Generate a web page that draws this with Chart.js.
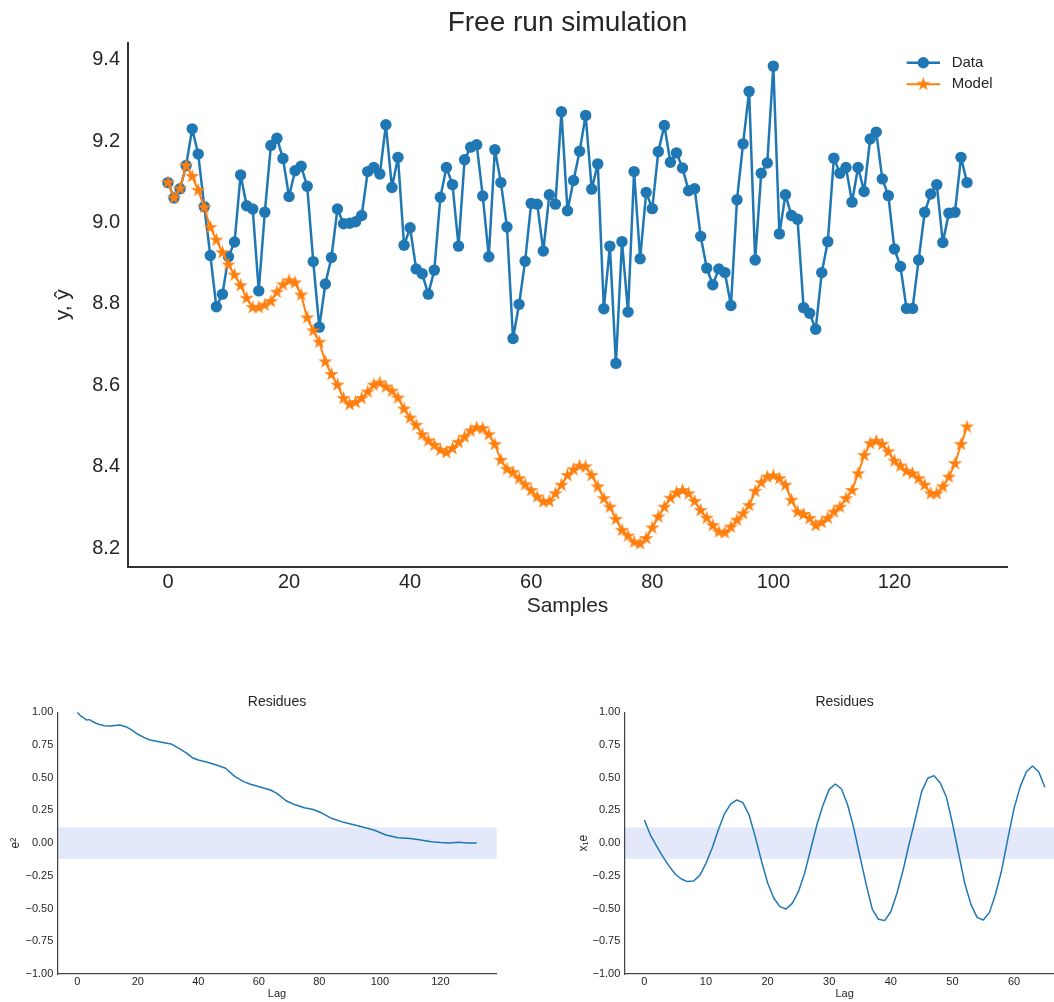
<!DOCTYPE html>
<html>
<head>
<meta charset="utf-8">
<title>Free run simulation</title>
<script src="https://cdn.jsdelivr.net/npm/chart.js@4.4.1/dist/chart.umd.min.js"></script>
<style>
  html, body { margin: 0; padding: 0; background: #fff; overflow: hidden; }
  #page { position: relative; width: 1054px; height: 1002px; overflow: hidden; }
  canvas { position: absolute; }
  #mainChart { left: 0; top: 0; }
  #acfChart { left: 0; top: 680px; }
  #ccfChart { left: 560px; top: 680px; }
</style>
</head>
<body>
<div id="page">
  <canvas id="mainChart" width="1054" height="640"></canvas>
  <canvas id="acfChart" width="527" height="322"></canvas>
  <canvas id="ccfChart" width="520" height="322"></canvas>
</div>
<script>
const FONT = "'Liberation Sans', Arial, sans-serif";
const TEXT = '#262626';
const BLUE = '#1f77b4';
const ORANGE = '#ff7f0e';

// measured output y, one value per sample (0..132)
const measured = [
  9.098, 9.060, 9.083, 9.140, 9.230, 9.168, 9.039, 8.919, 8.793, 8.824,
  8.916, 8.952, 9.117, 9.041, 9.033, 8.832, 9.025, 9.189, 9.207, 9.157,
  9.064, 9.127, 9.138, 9.089, 8.904, 8.743, 8.849, 8.914, 9.033, 8.997,
  8.998, 9.002, 9.017, 9.125, 9.135, 9.119, 9.240, 9.086, 9.160, 8.944,
  8.987, 8.886, 8.874, 8.824, 8.883, 9.062, 9.135, 9.093, 8.942, 9.154,
  9.185, 9.191, 9.065, 8.916, 9.179, 9.098, 8.989, 8.715, 8.799, 8.905,
  9.047, 9.045, 8.930, 9.068, 9.045, 9.272, 9.029, 9.103, 9.175, 9.263,
  9.082, 9.144, 8.788, 8.942, 8.654, 8.953, 8.780, 9.125, 8.911, 9.074,
  9.034, 9.174, 9.238, 9.148, 9.171, 9.134, 9.078, 9.083, 8.966, 8.888,
  8.847, 8.886, 8.877, 8.796, 9.056, 9.193, 9.322, 8.908, 9.121, 9.146,
  9.384, 8.972, 9.068, 9.017, 9.008, 8.791, 8.777, 8.738, 8.877, 8.953,
  9.158, 9.121, 9.135, 9.050, 9.135, 9.076, 9.205, 9.222, 9.107, 9.066,
  8.935, 8.892, 8.789, 8.789, 8.908, 9.025, 9.070, 9.093, 8.951, 9.023,
  9.025, 9.160, 9.098
];

// free-run model output ŷ
const simulated = [
  9.098, 9.060, 9.083, 9.140, 9.113, 9.079, 9.037, 8.988, 8.957, 8.926,
  8.896, 8.871, 8.845, 8.814, 8.791, 8.791, 8.797, 8.806, 8.829, 8.847,
  8.857, 8.852, 8.822, 8.766, 8.734, 8.706, 8.658, 8.627, 8.601, 8.568,
  8.553, 8.558, 8.568, 8.584, 8.601, 8.606, 8.596, 8.586, 8.569, 8.542,
  8.520, 8.502, 8.479, 8.464, 8.453, 8.441, 8.435, 8.445, 8.460, 8.473,
  8.488, 8.496, 8.494, 8.479, 8.455, 8.416, 8.394, 8.386, 8.371, 8.356,
  8.342, 8.326, 8.314, 8.315, 8.334, 8.355, 8.379, 8.393, 8.402, 8.400,
  8.379, 8.351, 8.322, 8.301, 8.271, 8.244, 8.230, 8.215, 8.211, 8.224,
  8.250, 8.277, 8.301, 8.323, 8.336, 8.342, 8.334, 8.315, 8.293, 8.274,
  8.256, 8.240, 8.238, 8.252, 8.269, 8.285, 8.305, 8.340, 8.361, 8.375,
  8.378, 8.371, 8.355, 8.318, 8.289, 8.283, 8.273, 8.256, 8.263, 8.274,
  8.289, 8.301, 8.322, 8.342, 8.383, 8.428, 8.457, 8.463, 8.455, 8.437,
  8.414, 8.402, 8.389, 8.383, 8.371, 8.355, 8.334, 8.334, 8.351, 8.375,
  8.408, 8.455, 8.498
];

const sampleTicks = [0, 20, 40, 60, 80, 100, 120];
const outputTicks = [8.2, 8.4, 8.6, 8.8, 9.0, 9.2, 9.4];

// autocorrelation of the residues (lag, value)
const acfLags = [0, 1, 2, 3, 4, 5, 7, 9, 11, 14, 16, 18, 20, 22, 24, 27, 31, 34, 36, 38,
  40, 43, 46, 49, 52, 55, 57, 61, 64, 66, 69, 72, 75, 78, 81, 84, 88, 93, 98, 102,
  106, 110, 113, 117, 120, 123, 126, 129, 132];
const acfValues = [1.0, 0.975, 0.96, 0.941, 0.944, 0.93, 0.908, 0.898, 0.895, 0.903,
  0.89, 0.865, 0.832, 0.808, 0.788, 0.775, 0.758, 0.719, 0.69, 0.653,
  0.635, 0.618, 0.597, 0.572, 0.51, 0.47, 0.452, 0.425, 0.404, 0.38,
  0.324, 0.293, 0.271, 0.257, 0.228, 0.19, 0.159, 0.131, 0.1, 0.062,
  0.042, 0.036, 0.026, 0.011, 0.005, 0.001, 0.006, 0.002, 0.001];
const acfTicks = [0, 20, 40, 60, 80, 100, 120];

// cross-correlation of input x1 with the residues, lags 0..65
const ccfValues = [
  0.177, 0.062, -0.022, -0.103, -0.174, -0.236, -0.274, -0.294, -0.289, -0.246,
  -0.154, -0.039, 0.101, 0.223, 0.299, 0.330, 0.310, 0.215, 0.050, -0.134,
  -0.302, -0.419, -0.485, -0.503, -0.460, -0.371, -0.231, -0.047, 0.139, 0.292,
  0.411, 0.452, 0.414, 0.292, 0.113, -0.103, -0.315, -0.506, -0.582, -0.592,
  -0.524, -0.383, -0.205, -0.001, 0.190, 0.394, 0.496, 0.516, 0.462, 0.355,
  0.152, -0.078, -0.307, -0.468, -0.567, -0.587, -0.531, -0.389, -0.205, 0.037,
  0.266, 0.432, 0.546, 0.590, 0.546, 0.427
];
const ccfTicks = [0, 10, 20, 30, 40, 50, 60];

const corrTicks = [-1, -0.75, -0.5, -0.25, 0, 0.25, 0.5, 0.75, 1];
const confidence = 0.12;

// filled five-point star, used as the model marker
function starMarker(size, color) {
  const c = document.createElement('canvas');
  c.width = c.height = size;
  const g = c.getContext('2d');
  const R = size / 2, r = R * 0.382;
  g.beginPath();
  for (let k = 0; k < 10; k++) {
    const rad = k % 2 ? r : R;
    const a = -Math.PI / 2 + k * Math.PI / 5;
    g.lineTo(R + rad * Math.cos(a), R + rad * Math.sin(a));
  }
  g.closePath();
  g.fillStyle = color;
  g.fill();
  return c;
}

const fixedTicks = list => scale => { scale.ticks = list.map(v => ({ value: v })); };
const corrLabel = v => (v < 0 ? '\u2212' + Math.abs(v).toFixed(2) : v.toFixed(2));

// legend drawn inside the plot, upper right
const insetLegend = {
  id: 'insetLegend',
  afterDraw(chart) {
    const ctx = chart.ctx;
    ctx.save();
    chart.data.datasets.forEach((ds, k) => {
      const y = 62.7 + k * 21.6;
      ctx.strokeStyle = ds.borderColor;
      ctx.lineWidth = ds.borderWidth;
      ctx.beginPath();
      ctx.moveTo(906.7, y);
      ctx.lineTo(940, y);
      ctx.stroke();
      ctx.fillStyle = ds.borderColor;
      Chart.helpers.drawPoint(ctx, {
        pointStyle: ds.pointStyle, radius: ds.pointRadius, borderWidth: 0, rotation: 0
      }, 923.3, y);
      ctx.fillStyle = TEXT;
      ctx.font = '15px ' + FONT;
      ctx.textBaseline = 'middle';
      ctx.textAlign = 'left';
      ctx.fillText(ds.label, 951.7, y);
    });
    ctx.restore();
  }
};

// shaded confidence interval behind the correlation curves
const confidenceBand = {
  id: 'confidenceBand',
  beforeDraw(chart) {
    const { ctx, chartArea, scales } = chart;
    const top = scales.y.getPixelForValue(confidence);
    const bottom = scales.y.getPixelForValue(-confidence);
    ctx.save();
    ctx.fillStyle = 'rgba(65, 105, 225, 0.15)';
    ctx.fillRect(chartArea.left, top, chartArea.right - chartArea.left, bottom - top);
    ctx.restore();
  }
};

new Chart(document.getElementById('mainChart'), {
  type: 'line',
  data: {
    datasets: [
      {
        label: 'Data',
        data: measured.map((v, i) => ({ x: i, y: v })),
        borderColor: BLUE,
        backgroundColor: BLUE,
        borderWidth: 2.5,
        borderJoinStyle: 'round',
        pointStyle: 'circle',
        pointRadius: 5.7,
        pointBorderWidth: 0,
        pointBackgroundColor: BLUE,
        tension: 0,
        order: 2
      },
      {
        label: 'Model',
        data: simulated.map((v, i) => ({ x: i, y: v })),
        borderColor: ORANGE,
        backgroundColor: ORANGE,
        borderWidth: 2,
        borderJoinStyle: 'round',
        pointStyle: starMarker(15, ORANGE),
        pointRadius: 7,
        pointBorderWidth: 0,
        tension: 0,
        order: 1
      }
    ]
  },
  options: {
    responsive: false,
    animation: false,
    devicePixelRatio: 1,
    events: [],
    layout: { padding: { left: 0, right: 47, top: 0, bottom: 0 } },
    plugins: {
      legend: { display: false },
      tooltip: { enabled: false },
      title: {
        display: true,
        text: 'Free run simulation',
        fullSize: false,
        color: TEXT,
        font: { family: FONT, size: 28, weight: 'normal' },
        padding: { top: 6.2, bottom: 2.7 }
      }
    },
    scales: {
      x: {
        type: 'linear',
        min: -6.6,
        max: 138.6,
        afterBuildTicks: fixedTicks(sampleTicks),
        afterFit: s => { s.height = 73; },
        grid: { display: false, drawTicks: false },
        border: { display: true, color: '#333', width: 2 },
        ticks: { color: TEXT, font: { family: FONT, size: 20 }, padding: 3, maxRotation: 0 },
        title: {
          display: true, text: 'Samples', color: TEXT,
          font: { family: FONT, size: 21 }, padding: { top: 0, bottom: 21 }
        }
      },
      y: {
        min: 8.154,
        max: 9.442,
        afterBuildTicks: fixedTicks(outputTicks),
        afterFit: s => { s.width = 128; },
        grid: { display: false, drawTicks: false },
        border: { display: true, color: '#333', width: 2 },
        ticks: { color: TEXT, font: { family: FONT, size: 20 }, padding: 8, callback: v => v.toFixed(1) },
        title: {
          display: true, text: 'y, ŷ', color: TEXT,
          font: { family: FONT, size: 21 }, padding: { top: 50.4, bottom: 0 }
        }
      }
    }
  },
  plugins: [insetLegend]
});

function corrChart(id, points, xRange, xTicks, yLabel, yWidth, padRight, yTitlePad) {
  return new Chart(document.getElementById(id), {
    type: 'line',
    data: {
      datasets: [{
        data: points,
        borderColor: BLUE,
        borderWidth: 1.5,
        borderJoinStyle: 'round',
        pointRadius: 0,
        tension: 0
      }]
    },
    options: {
      responsive: false,
      animation: false,
      devicePixelRatio: 1,
      events: [],
      layout: { padding: { left: 0, right: padRight, top: 0, bottom: 0 } },
      plugins: {
        legend: { display: false },
        tooltip: { enabled: false },
        title: {
          display: true,
          text: 'Residues',
          fullSize: false,
          color: TEXT,
          font: { family: FONT, size: 14, weight: 'normal' },
          padding: { top: 13.6, bottom: 1.9 }
        }
      },
      scales: {
        x: {
          type: 'linear',
          min: xRange[0],
          max: xRange[1],
          afterBuildTicks: fixedTicks(xTicks),
          afterFit: s => { s.height = 28; },
          grid: { display: false, drawTicks: false },
          border: { display: true, color: '#444', width: 1.25 },
          ticks: { color: TEXT, font: { family: FONT, size: 11 }, padding: 1, maxRotation: 0 },
          title: {
            display: true, text: 'Lag', color: TEXT,
            font: { family: FONT, size: 11 }, padding: { top: 0, bottom: 1.1 }
          }
        },
        y: {
          min: -1,
          max: 1,
          afterBuildTicks: fixedTicks(corrTicks),
          afterFit: s => { s.width = yWidth; },
          grid: { display: false, drawTicks: false },
          border: { display: true, color: '#444', width: 1.25 },
          ticks: { color: TEXT, font: { family: FONT, size: 11 }, padding: 4, callback: corrLabel },
          title: {
            display: true, text: yLabel, color: TEXT,
            font: { family: FONT, size: 12 }, padding: { top: yTitlePad, bottom: 0 }
          }
        }
      }
    },
    plugins: [confidenceBand]
  });
}

corrChart('acfChart', acfLags.map((lag, i) => ({ x: lag, y: acfValues[i] })),
  [-6.6, 138.6], acfTicks, 'e²', 57.3, 30.3, 8.4);

corrChart('ccfChart', ccfValues.map((v, lag) => ({ x: lag, y: v })),
  [-3.25, 68.25], ccfTicks, 'x₁e', 64.3, 15.1, 16.7);
</script>
</body>
</html>
